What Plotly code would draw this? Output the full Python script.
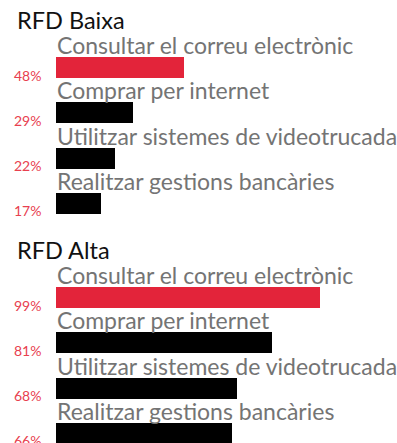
import plotly.graph_objects as go

# Survey data: share of people doing each online activity, by RFD level
activities = [
    "Consultar el correu electrònic",
    "Comprar per internet",
    "Utilitzar sistemes de videotrucada",
    "Realitzar gestions bancàries",
]
groups = ["RFD Baixa", "RFD Alta"]
values_baixa = [48, 29, 22, 17]
values_alta = [99, 81, 68, 66]

W, H = 397, 443
PX_PER_PCT = 2.666          # horizontal scale of the bars
BAR_X0 = 56                 # left edge of the bars, px
GROUP_TOP = [0, 230]        # top of each group block, px
ROW_STEP = 45.3             # vertical distance between rows, px
FIRST_ROW = 67.5            # centre of the first bar below a group top, px
BAR_H = 21

RED = "#E3243A"
RED_TEXT = "#E8404F"
LABEL_GREY = "#747474"
FONT = "Lato, 'Noto Sans', sans-serif"

fig = go.Figure()
annotations = []

for g, (name, vals) in enumerate(zip(groups, [values_baixa, values_alta])):
    top = GROUP_TOP[g]
    ys = [top + FIRST_ROW + i * ROW_STEP for i in range(len(vals))]
    colors = [RED] + ["#000000"] * (len(vals) - 1)
    fig.add_trace(go.Bar(
        x=vals, y=ys, orientation="h", width=BAR_H,
        marker=dict(color=colors, line=dict(width=0)),
        hoverinfo="skip", showlegend=False,
    ))
    # group heading
    annotations.append(dict(
        text=name, xref="paper", x=16 / W, xanchor="left",
        yref="y", y=top + 20, yanchor="middle", showarrow=False,
        font=dict(family=FONT, size=23.5, color="#111111"), borderpad=0,
    ))
    for act, v, y in zip(activities, vals, ys):
        # activity label above each bar
        annotations.append(dict(
            text=act, xref="x", x=0, xanchor="left",
            yref="y", y=y - 22.5, yanchor="middle", showarrow=False,
            font=dict(family=FONT, size=23, color=LABEL_GREY), borderpad=0,
        ))
        # value label left of each bar
        annotations.append(dict(
            text=f"{v}%", xref="paper", x=42 / W, xanchor="right",
            yref="y", y=y + 7.5, yanchor="middle", showarrow=False,
            font=dict(family=FONT, size=14, color=RED_TEXT), borderpad=0,
        ))

fig.update_layout(
    width=W, height=H,
    margin=dict(l=0, r=0, t=0, b=0),
    paper_bgcolor="#ffffff", plot_bgcolor="#ffffff",
    bargap=0,
    xaxis=dict(range=[-BAR_X0 / PX_PER_PCT, (W - BAR_X0) / PX_PER_PCT],
               visible=False, fixedrange=True),
    yaxis=dict(range=[H, 0], visible=False, fixedrange=True),
    annotations=annotations,
    hovermode=False,
)

fig.write_html("out.html", config={"displayModeBar": False})
